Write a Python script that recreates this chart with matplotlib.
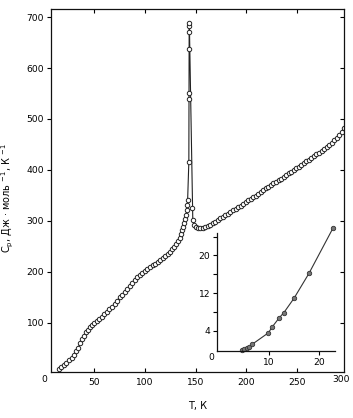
import matplotlib
matplotlib.use("Agg")
import matplotlib.pyplot as plt

# ---- main data: heat capacity Cp (J/mol/K) vs T (K) ----
T_main = [15, 17.5, 20, 22.5, 25, 27.5, 30, 32, 34, 36, 38, 40, 42, 44, 46, 48,
          50, 52.5, 55, 57.5, 60, 62.5, 65, 67.5, 70, 72.5, 75, 77.5, 80, 82.5,
          85, 87.5, 90, 92.5, 95, 97.5, 100, 102.5, 105, 107.5, 110, 112.5, 115,
          117.5, 120, 122.5, 125, 127, 129, 131, 133, 134.5, 136, 137, 138, 139,
          140, 140.7, 141.3, 141.8, 142.2, 143.4, 143.5, 143.6, 143.6, 143.7,
          143.8, 143.9, 147.0, 147.3, 148.3, 150, 152, 154.5, 157, 159.5, 162,
          164.5, 167, 169.5, 172, 174.5, 177, 179.5, 182, 184.5, 187, 189.5, 192,
          194.5, 197, 199.5, 202, 204.5, 207, 209.5, 212, 214.5, 217, 219.5, 222,
          224.5, 227, 229.5, 232, 234.5, 237, 239.5, 242, 244.5, 247, 249.5, 252,
          254.5, 257, 259.5, 262, 264.5, 267, 269.5, 272, 274.5, 277, 279.5, 282,
          284.5, 287, 289.5, 292, 294.5, 297]
Cp_main = [8, 12, 17, 21, 26, 31, 37, 44, 51, 59, 67, 74, 81, 86, 91, 95,
           99, 104, 108, 112, 117, 121, 126, 131, 137, 143, 150, 155, 160, 166,
           172, 178, 184, 189, 193, 197, 201, 205, 209, 213, 216, 220, 223,
           227, 231, 235, 239, 244, 248, 254, 260, 267, 274, 281, 288, 295,
           303, 312, 322, 331, 341, 416, 539, 551, 637, 671,
           682, 688, 325, 302, 292, 287, 285, 285, 286, 288, 290,
           292, 295, 298, 301, 305, 308, 311, 314, 318, 321, 324, 327,
           330, 333, 337, 340, 343, 346, 349, 353, 357, 360, 364, 367,
           371, 374, 377, 380, 383, 386, 389, 393, 396, 400, 403, 406,
           409, 413, 417, 420, 424, 427, 431, 434, 438, 441, 445, 449,
           453, 458, 463, 468, 475, 482]

# ---- inset data: low temperature region ----
T_ins = [4.6, 5.1, 5.6, 6.1, 6.7, 9.9, 10.7, 12.0, 13.0, 15.0, 18.0, 22.8]
Cp_ins = [0.0, 0.1, 0.3, 0.7, 1.2, 3.6, 4.9, 6.7, 7.9, 10.9, 16.2, 25.8]

x_ticks = [50, 100, 150, 200, 250]
y_ticks = [100, 200, 300, 400, 500, 600, 700]
ins_xticks = [10, 20]
ins_yticks = [4, 8, 12, 16, 20, 24]
ins_ylabels = ['4', '', '12', '', '20', '']

W, H = 353, 418
fig = plt.figure(figsize=(W / 100, H / 100), dpi=100)
plt.rcParams['font.family'] = ['DejaVu Sans']

ax = fig.add_axes([51 / W, 1 - 372 / H, (344 - 51) / W, (372 - 9) / H])
ax.plot(T_main, Cp_main, '-', color='#222222', lw=0.8,
        marker='o', ms=3.2, mfc='white', mec='#222222', mew=0.7)
ax.set_xlim(7.2, 296.7)
ax.set_ylim(3, 716)
ax.set_xticks(x_ticks)
ax.set_yticks(y_ticks)
ax.tick_params(axis='x', direction='in', top=True, length=3, width=0.8,
               labelsize=6.6, pad=4)
ax.tick_params(axis='y', direction='out', length=3, width=0.8,
               labelsize=6.6, pad=2)
ax.yaxis.set_ticks_position('both')
for t in ax.yaxis.get_major_ticks():
    t.tick2line.set_marker(0)  # inward on right
for sp in ax.spines.values():
    sp.set_linewidth(0.9)
    sp.set_color('#111111')

fig.text(44 / W, 1 - 380 / H, '0', fontsize=6.6, ha='center', va='center')
fig.text(341 / W, 1 - 380 / H, '300', fontsize=6.6, ha='center', va='center')

ax.set_xlabel('T, К', fontsize=7)
ax.xaxis.set_label_coords(0.5, -0.08)
ax.set_ylabel('C$_\\mathregular{p}$, Дж · моль $^{\\mathregular{-1}}$, К $^{\\mathregular{-1}}$',
              fontsize=7)
ax.yaxis.set_label_coords(-0.118, 0.48)

# ---- inset ----
ia = fig.add_axes([217.3 / W, 1 - 351 / H, (335 - 217.3) / W, (351 - 233.3) / H])
ia.plot(T_ins, Cp_ins, '-', color='#333333', lw=0.8, clip_on=False,
        marker='o', ms=3.2, mfc='#777777', mec='#333333', mew=0.6)
ia.set_xlim(-0.3, 23.2)
ia.set_ylim(-0.25, 24.7)
ia.set_xticks(ins_xticks)
ia.set_yticks(ins_yticks)
ia.set_yticklabels(ins_ylabels)
ia.spines['top'].set_visible(False)
ia.spines['right'].set_visible(False)
for s in ('left', 'bottom'):
    ia.spines[s].set_linewidth(0.9)
    ia.spines[s].set_color('#111111')
ia.tick_params(direction='out', length=3, width=0.8, labelsize=6.6, pad=2)
fig.text(211.7 / W, 1 - 357 / H, '0', fontsize=6.6, ha='center', va='center')

fig.savefig('out.png', dpi=100)
